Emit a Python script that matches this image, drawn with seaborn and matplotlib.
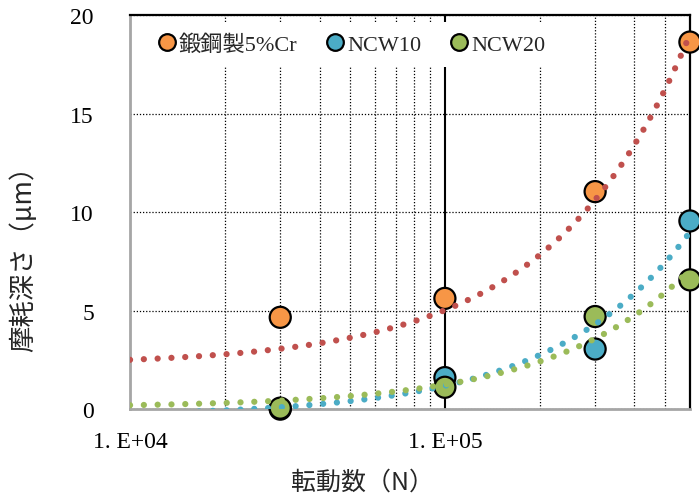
import numpy as np
import pandas as pd
import matplotlib
matplotlib.use("Agg")
import matplotlib.pyplot as plt
from matplotlib.lines import Line2D
from matplotlib.ticker import FixedLocator, LogLocator, NullFormatter
import seaborn as sns

# data (first entry = initial state, not shown on the log axis but used for the trend fit)
cycles = [0, 3e4, 1e5, 3e5, 6e5]
forged = [0, 4.66, 5.62, 11.04, 18.63]
ncw10 = [0, 0.0, 1.60, 3.05, 9.55]
ncw20 = [0, 0.05, 1.11, 4.70, 6.56]

names = ["鍛鋼製5%Cr", "NCW10", "NCW20"]
marker_colors = ["#F79646", "#4BACC6", "#9BBB59"]
trend_colors = ["#C0504D", "#4BACC6", "#9BBB59"]
xticks = [1e4, 1e5]
xticklabels = ["1. E+04", "1. E+05"]
yticks = [0, 5, 10, 15, 20]

if __name__ == "__main__":
    sns.set_style("white")
    plt.rcParams['font.family'] = ['Liberation Serif', 'Noto Sans CJK JP']

    pts = pd.DataFrame({
        "N": cycles * 3,
        "depth": forged + ncw10 + ncw20,
        "series": [names[0]] * 5 + [names[1]] * 5 + [names[2]] * 5,
    })

    # linear trend lines (fit over all points, drawn on the log axis)
    xs = np.geomspace(1e4, 6e5, 400)
    fits = []
    for name, ys in zip(names, [forged, ncw10, ncw20]):
        b, a = np.polyfit(cycles, ys, 1)
        fits.append(pd.DataFrame({"N": xs, "depth": a + b * xs, "series": name}))
    fit = pd.concat(fits)

    fig = plt.figure(figsize=(6.99, 5.02), dpi=100)
    ax = fig.add_axes([0.186, 0.183, 0.801, 0.785])
    ax.set_xscale("log")

    shown = pts[pts["N"] > 0]
    sns.scatterplot(data=shown, x="N", y="depth", hue="series", hue_order=names,
                    palette=marker_colors, s=230, edgecolor="black", linewidth=1.6,
                    clip_on=False, legend=False, zorder=3, ax=ax)
    sns.lineplot(data=fit, x="N", y="depth", hue="series", hue_order=names,
                 palette=trend_colors, legend=False, zorder=4, ax=ax)
    for line in ax.lines:
        line.set_linewidth(4.5)
        line.set_linestyle((0, (0.01, 2.2)))
        line.set_dash_capstyle("round")

    ax.set_xlim(1e4, 6e5)
    ax.set_ylim(0, 20)
    ax.xaxis.set_major_locator(FixedLocator(xticks))
    ax.set_xticklabels(xticklabels)
    ax.xaxis.set_minor_locator(LogLocator(base=10, subs=np.arange(2, 10)))
    ax.xaxis.set_minor_formatter(NullFormatter())
    ax.set_yticks(yticks)
    ax.set_yticklabels([str(v) for v in yticks])
    ax.tick_params(axis="both", which="both", length=0, labelsize=17, colors="black")
    ax.tick_params(axis="x", pad=16)
    ax.tick_params(axis="y", pad=26)

    ax.grid(axis="x", which="major", color="black", linewidth=1.5, linestyle="-", zorder=1)
    ax.grid(axis="x", which="minor", color="black", linewidth=0.9, linestyle=(0, (1, 1.5)))
    ax.grid(axis="y", which="major", color="black", linewidth=0.9, linestyle=(0, (1, 1.5)))
    ax.set_axisbelow(True)

    for side in ["left", "bottom"]:
        ax.spines[side].set_color("#A6A6A6")
        ax.spines[side].set_linewidth(2)
    for side in ["top", "right"]:
        ax.spines[side].set_color("black")
        ax.spines[side].set_linewidth(1.6)

    ax.set_xlabel("転動数（N）", fontsize=18, family=["Noto Sans CJK JP"])
    ax.set_ylabel("摩耗深さ（μm）", fontsize=19, family=["Noto Sans CJK JP"])
    ax.xaxis.set_label_coords(0.415, -0.152)
    ax.yaxis.set_label_coords(-0.166, 0.40)

    handles = [Line2D([], [], marker="o", linestyle="none", markersize=12,
                      markerfacecolor=c, markeredgecolor="black", markeredgewidth=1.6)
               for c in marker_colors]
    leg = ax.legend(handles, names, loc="upper left", bbox_to_anchor=(0.012, 1.0),
                    ncol=3, frameon=True, fancybox=False, framealpha=1,
                    facecolor="white", edgecolor="none", fontsize=16,
                    handletextpad=0.05, columnspacing=1.2, borderpad=0.55,
                    handlelength=1.0, borderaxespad=0.3)
    leg.set_zorder(5)

    plt.savefig("out.png", dpi=100)
